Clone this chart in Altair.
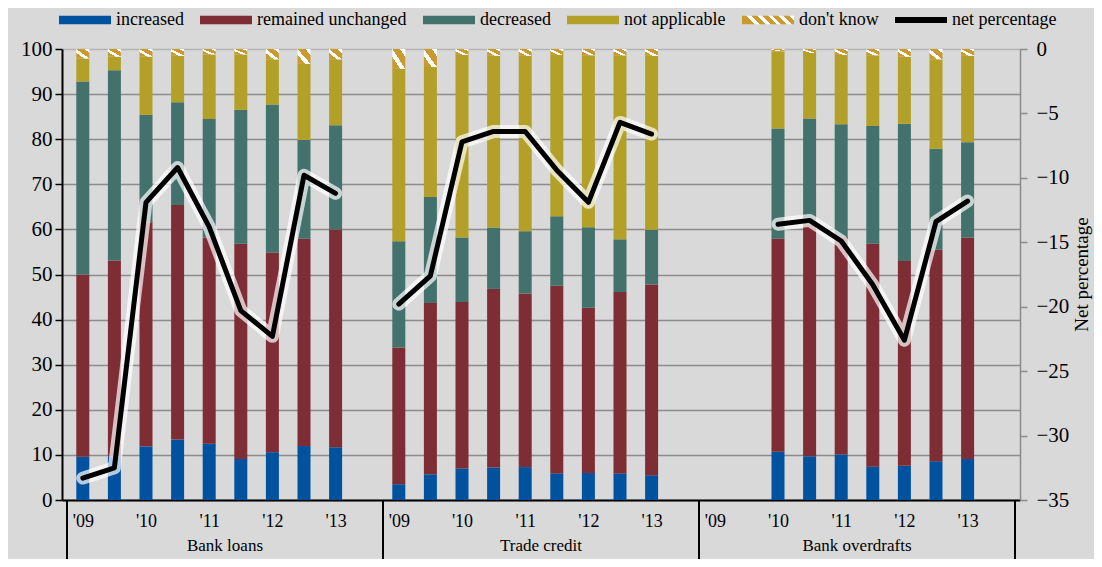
import json
import pandas as pd
import altair as alt

FONT = "Liberation Serif"

groups = ["Bank loans", "Trade credit", "Bank overdrafts"]
periods = ["2009H1", "2009H2", "2010H1", "2010H2", "2011H1",
           "2011H2", "2012H1", "2012H2", "2013H1"]
year_labels = ["'09", "'10", "'11", "'12", "'13"]
categories = ["increased", "remained unchanged", "decreased", "not applicable", "don't know"]
legend_entries = categories + ["net percentage"]
colors = ["#00529f", "#7e2d35", "#43716b", "#b3a029", "#c99a2e", "#000000"]
HATCH = "#c99a2e"

# Bank loans
bl_increased = [9.6, 9.6, 11.9, 13.4, 12.5, 9.1, 10.6, 12.0, 11.7]
bl_unchanged = [40.4, 43.5, 49.7, 52.0, 45.7, 47.7, 44.2, 45.9, 48.3]
bl_decreased = [42.8, 42.2, 23.8, 22.8, 26.3, 29.7, 32.9, 21.9, 23.1]
bl_not_applicable = [5.1, 3.0, 12.9, 10.3, 14.3, 12.3, 10.0, 16.9, 14.6]
bl_dont_know = [2.1, 1.7, 1.7, 1.5, 1.2, 1.2, 2.3, 3.3, 2.3]
bl_net = [-33.3, -32.5, -11.9, -9.2, -13.8, -20.3, -22.3, -9.8, -11.2]

# Trade credit
tc_increased = [3.5, 5.7, 7.0, 7.2, 7.3, 5.9, 6.0, 5.9, 5.5]
tc_unchanged = [30.3, 38.0, 36.9, 39.6, 38.5, 41.6, 36.6, 40.2, 42.3]
tc_decreased = [23.6, 23.5, 14.3, 13.6, 13.8, 15.4, 17.9, 11.7, 12.1]
tc_not_applicable = [38.2, 28.8, 40.5, 38.1, 38.9, 35.8, 38.1, 40.8, 38.6]
tc_dont_know = [4.4, 4.0, 1.3, 1.5, 1.5, 1.3, 1.4, 1.4, 1.5]
tc_net = [-19.8, -17.6, -7.2, -6.4, -6.4, -9.4, -11.9, -5.7, -6.6]

# Bank overdrafts (no data for 2009)
bo_increased = [None, None, 10.7, 9.7, 10.1, 7.4, 7.6, 8.6, 9.1]
bo_unchanged = [None, None, 47.2, 51.3, 48.2, 49.4, 45.4, 46.9, 49.1]
bo_decreased = [None, None, 24.5, 23.6, 25.0, 26.1, 30.4, 22.4, 21.1]
bo_not_applicable = [None, None, 17.1, 14.5, 15.4, 15.7, 14.9, 19.8, 19.2]
bo_dont_know = [None, None, 0.5, 0.9, 1.3, 1.4, 1.7, 2.3, 1.5]
bo_net = [None, None, -13.6, -13.3, -14.9, -18.3, -22.6, -13.4, -11.8]

series = {
    "Bank loans": [bl_increased, bl_unchanged, bl_decreased, bl_not_applicable, bl_dont_know],
    "Trade credit": [tc_increased, tc_unchanged, tc_decreased, tc_not_applicable, tc_dont_know],
    "Bank overdrafts": [bo_increased, bo_unchanged, bo_decreased, bo_not_applicable, bo_dont_know],
}
nets = {"Bank loans": bl_net, "Trade credit": tc_net, "Bank overdrafts": bo_net}

SLOTS = 10
bar_rows, net_rows = [], []
for gi, g in enumerate(groups):
    for pi, p in enumerate(periods):
        vals = [s[pi] for s in series[g]]
        if vals[0] is None:
            continue
        cum = 0.0
        for cat, v in zip(categories, vals):
            bar_rows.append(dict(group=g, period=p, idx=gi * SLOTS + pi, cat=cat,
                                 y0=cum, y1=cum + v))
            cum += v
        net_rows.append(dict(group=g, period=p, idx=gi * SLOTS + pi, net=nets[g][pi]))

bars_df = pd.DataFrame(bar_rows)
main_df = bars_df[bars_df.cat != "don't know"]
dk_df = bars_df[bars_df.cat == "don't know"]
net_df = pd.DataFrame(net_rows)
group_df = pd.DataFrame({"group": groups,
                         "idx": [gi * SLOTS + 4.5 for gi in range(len(groups))]})
sep_df = pd.DataFrame({"idx": [gi * SLOTS - 0.5 for gi in range(len(groups) + 1)]})

tick_values = [gi * SLOTS + k for gi in range(len(groups)) for k in range(0, 9, 2)]
label_expr = json.dumps(year_labels) + "[(datum.value % 10) / 2]"

x_enc = alt.X(
    "idx:Q",
    scale=alt.Scale(domain=[-0.5, len(groups) * SLOTS - 0.5], nice=False, zero=False),
    axis=alt.Axis(values=tick_values, labelExpr=label_expr, ticks=False, grid=False,
                  domainColor="black", domainWidth=2, title=None, labelFontSize=18,
                  labelFont=FONT, labelPadding=12, labelColor="black", labelFlush=False),
)


def stops(period, gold_frac, n):
    out = []
    for i in range(n):
        a = i * period
        b = a + period * gold_frac
        c = a + period
        out += [{"offset": round(a, 4), "color": HATCH},
                {"offset": round(b, 4), "color": HATCH},
                {"offset": round(b, 4), "color": "#ffffff"},
                {"offset": round(min(c, 1.0), 4), "color": "#ffffff"}]
    return out


hatch_bar = {"gradient": "linear", "x1": 0, "y1": 1, "x2": 1, "y2": 0,
             "stops": stops(0.5, 0.6, 2)}
hatch_legend = {"gradient": "linear", "x1": 0, "y1": 0.165, "x2": 1, "y2": 0,
                "stops": stops(0.2, 0.55, 5)}

color_range = colors[:4] + [{"expr": json.dumps(hatch_legend)}] + colors[5:]

legend = alt.Legend(
    orient="none", legendX=-3, legendY=-55, direction="horizontal", title=None,
    symbolType={"expr": "datum.value === \"net percentage\" ? \"M-1,-0.115H1V0.115H-1Z\" : \"M-1,-0.165H1V0.165H-1Z\""},
    symbolSize=2704, symbolStrokeWidth=0,
    symbolOpacity=1, labelFontSize=18, labelFont=FONT, labelColor="black", labelOffset=5,
    columnPadding=16,
)

y_left = alt.Y(
    "y1:Q",
    scale=alt.Scale(domain=[0, 100], nice=False),
    axis=alt.Axis(values=list(range(0, 101, 10)), grid=True,
                  gridColor={"condition": {"test": "datum.value === 100", "value": "#b3b3b3"},
                             "value": "#8c8c8c"},
                  gridWidth=1.5, domainColor="black", domainWidth=2, tickColor="black",
                  tickSize=7, tickWidth=1.5, labelFontSize=21, labelFont=FONT, labelPadding=3,
                  labelColor="black", labelFlush=False, title=None),
)

bars = alt.Chart(main_df).mark_bar(size=13).encode(
    x=x_enc, y=y_left, y2="y0:Q",
    color=alt.Color("cat:N", scale=alt.Scale(domain=legend_entries, range=color_range),
                    legend=legend),
)
dk_bars = alt.Chart(dk_df).mark_bar(size=13, color=hatch_bar).encode(
    x=x_enc, y=alt.Y("y1:Q", scale=alt.Scale(domain=[0, 100], nice=False)), y2="y0:Q",
)
left = alt.layer(bars, dk_bars)

y_right = alt.Y(
    "net:Q",
    scale=alt.Scale(domain=[-35, 0], nice=False, zero=False),
    axis=alt.Axis(orient="right", values=list(range(-35, 1, 5)), grid=False,
                  domainColor="#8a8a8a", domainWidth=1.5, tickColor="#8a8a8a",
                  tickSize=7, tickWidth=1.5, labelFontSize=21, labelFont=FONT,
                  labelPadding=9, labelColor="black", labelFlush=False,
                  title="Net percentage", titleFont=FONT,
                  titleFontSize=19, titleFontWeight="normal", titleColor="black",
                  titleAngle=270, titleX=61, titleY=225, titleAlign="center",
                  titleBaseline="middle"),
)
halo = alt.Chart(net_df).mark_line(color="white", strokeWidth=13, opacity=0.7,
                                   strokeCap="round", strokeJoin="round").encode(
    x=x_enc, y=y_right, detail="group:N")
line = alt.Chart(net_df).mark_line(color="black", strokeWidth=5,
                                   strokeCap="round", strokeJoin="round").encode(
    x=x_enc, y=y_right, detail="group:N")
right = alt.layer(halo, line)

seps = alt.Chart(sep_df).mark_rule(color="black", strokeWidth=2).encode(
    x=x_enc, y=alt.value(451), y2=alt.value(510))
glabels = alt.Chart(group_df).mark_text(fontSize=17, font=FONT, baseline="alphabetic",
                                        color="black").encode(
    x=x_enc, y=alt.value(502), text="group:N")

chart = alt.layer(left, right, seps, glabels).resolve_scale(y="independent").properties(
    width=958, height=451, background="#d9d9d9",
    padding={"left": 54, "top": 41, "right": 74, "bottom": 59},
    autosize=alt.AutoSizeParams(type="none"),
).configure(font=FONT).configure_view(stroke="transparent")

chart.save("out.html", embed_options={"renderer": "svg", "actions": False})
